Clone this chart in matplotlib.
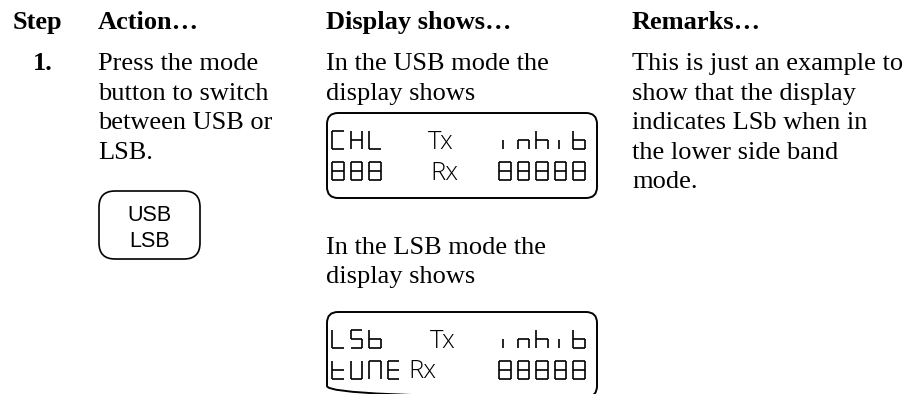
import matplotlib
matplotlib.use("Agg")
import matplotlib.pyplot as plt
from matplotlib.patches import FancyBboxPatch
from matplotlib.collections import LineCollection

# ---- content ----
headers = ["Step", "Action\u2026", "Display shows\u2026", "Remarks\u2026"]
step_label = "1."
action_lines = ["Press the mode", "button to switch", "between USB or", "LSB."]
button_lines = ["USB", "LSB"]
display_intro_1 = ["In the USB mode the", "display shows"]
display_intro_2 = ["In the LSB mode the", "display shows"]
display_1 = [["CHL", "Tx", "inhib"], ["888", "Rx", "88888"]]
display_2 = [["LSb", "Tx", "inhib"], ["tUNE", "Rx", "88888"]]
remarks_lines = ["This is just an example to", "show that the display",
                 "indicates LSb when in", "the lower side band", "mode."]

# ---- layout (pixel space) ----
W, H = 906, 394
fig = plt.figure(figsize=(W / 100, H / 100), dpi=100)
ax = fig.add_axes([0, 0, 1, 1])
ax.set_xlim(0, W)
ax.set_ylim(H, 0)
ax.axis("off")

SERIF = ["Liberation Serif", "DejaVu Serif"]
SANS = ["Liberation Sans", "DejaVu Sans"]
FS = 19.0
col_x = [13, 98, 326, 632]
head_y = 29
row_y = [70, 99.5, 129, 158.5, 188]

for x, h in zip(col_x, headers):
    ax.text(x, head_y, h, family=SERIF, weight="bold", fontsize=FS, va="baseline", ha="left")

ax.text(33, row_y[0], step_label, family=SERIF, weight="bold", fontsize=FS, va="baseline")
for y, t in zip(row_y, action_lines):
    ax.text(col_x[1], y, t, family=SERIF, fontsize=FS, va="baseline")
for y, t in zip(row_y, remarks_lines):
    ax.text(col_x[3], y, t, family=SERIF, fontsize=FS, va="baseline")
for y, t in zip(row_y[:2], display_intro_1):
    ax.text(col_x[2], y, t, family=SERIF, fontsize=FS, va="baseline")
for y, t in zip([254, 283], display_intro_2):
    ax.text(col_x[2], y, t, family=SERIF, fontsize=FS, va="baseline")

# button
bx0, by0, bx1, by1 = 99, 191, 200, 259
ax.add_patch(FancyBboxPatch((bx0, by0), bx1 - bx0, by1 - by0,
                            boxstyle="round,pad=0,rounding_size=16",
                            fc="none", ec="black", lw=1.2))
for y, t in zip([215, 241], button_lines):
    ax.text((bx0 + bx1) / 2, y, t, family=SANS, fontsize=15.5, ha="center", va="center")

# seven segment rendering
SEG = {
    "8": "abcdefg", "C": "adef", "H": "bcefg", "L": "def", "S": "acdfg",
    "b": "cdefg", "i": "i", "n": "ceg", "h": "cefg", "t": "defg",
    "U": "bcdef", "N": "abcef", "E": "adefg",
}


def seg_lines(ch, x0, yt, w, h):
    ym = yt + h / 2
    yb = yt + h
    pts = {
        "a": [(x0, yt), (x0 + w, yt)],
        "b": [(x0 + w, yt), (x0 + w, ym)],
        "c": [(x0 + w, ym), (x0 + w, yb)],
        "d": [(x0, yb), (x0 + w, yb)],
        "e": [(x0, ym), (x0, yb)],
        "f": [(x0, yt), (x0, ym)],
        "g": [(x0, ym), (x0 + w, ym)],
        "i": [(x0 + 0.35 * w, ym), (x0 + 0.35 * w, yb)],
    }
    return [pts[s] for s in SEG[ch]]


def draw_display(rows, top, mid_x):
    x0, x1 = 327, 597
    ax.add_patch(FancyBboxPatch((x0, top), x1 - x0, 85,
                                boxstyle="round,pad=0,rounding_size=11",
                                fc="none", ec="black", lw=1.4, clip_on=True))
    segs = []
    cw, ch, pitch = 11.5, 17.5, 18.6
    for r, (left, mid, right) in enumerate(rows):
        yt = top + 18 + r * 31
        for k, c in enumerate(left):
            segs += seg_lines(c, 332 + k * pitch, yt, cw, ch)
        for k, c in enumerate(right):
            segs += seg_lines(c, 499 + k * pitch, yt, cw, ch)
        ax.text(mid_x[r], yt + ch, mid, family=["Open Sans", "DejaVu Sans"], weight="light",
                fontsize=18.5, va="baseline", ha="left")
    ax.add_collection(LineCollection(segs, colors="black", linewidths=1.2))


draw_display(display_1, 113, [428, 430])
draw_display(display_2, 312, [430, 408])

fig.savefig("out.png", dpi=100)
